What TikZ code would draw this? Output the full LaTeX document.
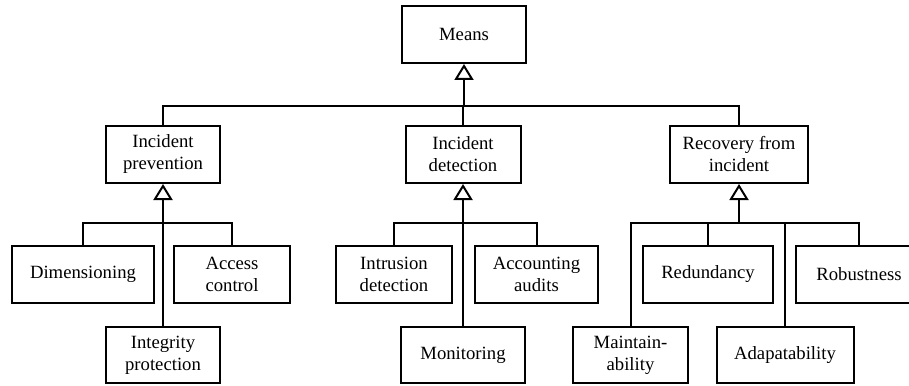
\documentclass[tikz,border=0pt]{standalone}
\usepackage{fontspec}
\setmainfont{Liberation Serif}
\usetikzlibrary{arrows.meta}
\begin{document}
\begin{tikzpicture}[x=1pt,y=-1pt,
  box/.style={draw,line width=2pt,rectangle,minimum height=57pt,inner sep=0pt,align=center,
    font=\fontsize{18.7}{22}\selectfont},
  conn/.style={line width=2pt},
  gen/.style={line width=2pt,-{Triangle[open,width=19pt,length=16pt,line width=2pt]}}]
\clip (0,0) rectangle (909,385);
\fill[white] (0,0) rectangle (909,385);
\node[box,minimum width=124pt] (means) at (464,34.5) {Means};
\node[box,minimum width=114pt] (ip) at (163,154.5) {Incident\\prevention};
\node[box,minimum width=115pt] (id) at (463,154.5) {Incident\\detection};
\node[box,minimum width=138pt] (rc) at (739,154.5) {Recovery from\\incident};
\node[box,minimum width=142pt] (dim) at (83,274.5) {Dimensioning};
\node[box,minimum width=116pt] (ac) at (232,274.5) {Access\\control};
\node[box,minimum width=114pt,minimum height=56pt] (integ) at (163,355) {Integrity\\protection};
\node[box,minimum width=116pt] (intr) at (394,274.5) {Intrusion\\detection};
\node[box,minimum width=123pt] (acc) at (536.5,274.5) {Accounting\\audits};
\node[box,minimum width=124pt,minimum height=56pt] (mon) at (463,355) {Monitoring};
\node[box,minimum width=130pt] (red) at (708,274.5) {Redundancy};
\node[box,minimum width=126pt] (rob) at (859,274.5) {Robustness};
\node[box,minimum width=115pt,minimum height=56pt] (maint) at (630.5,355) {Maintain-\\ability};
\node[box,minimum width=137pt,minimum height=56pt] (adapt) at (785,355) {Adapatability};
\coordinate (bus) at (0,106);
\coordinate (sub) at (0,223);
% top level
\draw[conn] (ip.north) |- (bus -| rc.north) -- (rc.north);
\draw[conn] (id.north) -- (id.north |- bus);
\draw[gen] (means.south |- bus) -- (means.south);
% prevention
\draw[conn] (dim.north) |- (sub -| ac.north) -- (ac.north);
\draw[gen] (integ.north) -- (ip.south);
% detection
\draw[conn] (intr.north) |- (sub -| acc.north) -- (acc.north);
\draw[gen] (mon.north) -- (id.south);
% recovery
\draw[conn] (maint.north) |- (sub -| rob.north) -- (rob.north);
\draw[conn] (red.north) -- (red.north |- sub);
\draw[conn] (adapt.north) -- (adapt.north |- sub);
\draw[gen] (rc.south |- sub) -- (rc.south);
\end{tikzpicture}
\end{document}
